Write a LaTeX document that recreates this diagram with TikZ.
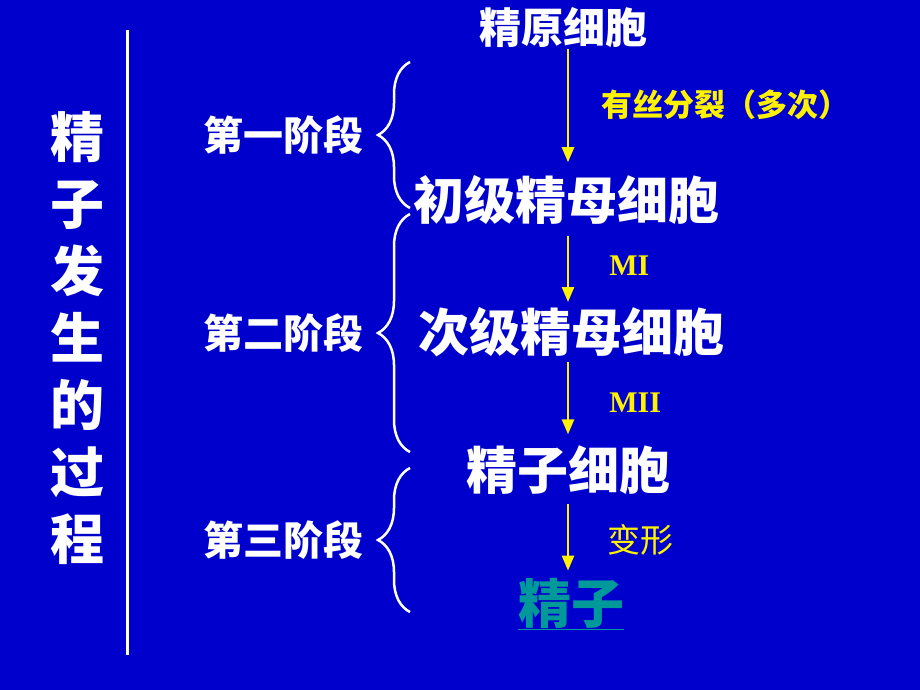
\documentclass[tikz,border=0pt]{standalone}
\usepackage{fontspec}
\setmainfont{Liberation Serif}
\newfontfamily\hei{Noto Sans CJK SC}
\usetikzlibrary{arrows.meta,decorations.pathreplacing}
\definecolor{bgblue}{RGB}{0,0,204}
\definecolor{jzgreen}{RGB}{0,153,153}
\tikzset{
  cell/.style={text=white,inner sep=1pt,font=\hei\bfseries\fontsize{51}{51}\selectfont},
  stage/.style={text=white,inner sep=2pt,font=\hei\bfseries\fontsize{40}{40}\selectfont},
  lab/.style={text=yellow,inner sep=0pt,font=\hei\bfseries\fontsize{31}{31}\selectfont},
  arr/.style={yellow,line width=2.5pt,-{Triangle[length=15pt,width=12pt]}},
  brc/.style={white,line width=2.5pt,decorate,decoration={brace,amplitude=32pt}}
}
\begin{document}
\begin{tikzpicture}[x=1pt,y=-1pt]
\fill[bgblue](0,0)rectangle(920,690);
\useasboundingbox(0,0)rectangle(920,690);
% title
\node[text=white,align=center,font=\hei\bfseries\fontsize{54}{67}\selectfont](title)at(77,338){精\\子\\发\\生\\的\\过\\程};
\draw[white,line width=3pt](127,30)--(127,655);
% cells
\node[cell,font=\hei\bfseries\fontsize{42}{42}\selectfont](sg)at(563,28){精原细胞};
\node[cell](ps)at(566,200){初级精母细胞};
\node[cell](ss)at(571,332){次级精母细胞};
\node[cell](st)at(568,470){精子细胞};
\node[cell,text=jzgreen,font=\hei\bfseries\fontsize{53}{53}\selectfont](sz)at(571,604){\underline{精子}};
% arrows
\draw[arr,shorten <=0pt,shorten >=12pt]([xshift=5pt]sg.south)--([xshift=5pt]sg.south|-ps.north)node[lab,midway,right=32pt,yshift=7pt]{有丝分裂（多次）};
\draw[arr,shorten <=10pt,shorten >=4pt]([xshift=5pt]sg.south|-ps.south)--([xshift=5pt]sg.south|-ss.north)node[lab,midway,right=40pt,font=\bfseries\fontsize{30}{30}\selectfont]{MI};
\draw[arr,shorten <=4pt,shorten >=10pt]([xshift=5pt]sg.south|-ss.south)--([xshift=5pt]sg.south|-st.north)node[lab,midway,right=40pt,yshift=-2pt,font=\bfseries\fontsize{30}{30}\selectfont]{MII};
\draw[arr,shorten <=8pt,shorten >=6pt]([xshift=5pt]sg.south|-st.south)--([xshift=5pt]sg.south|-sz.north)node[lab,midway,right=38pt,yshift=-4pt,font=\hei\fontsize{33}{33}\selectfont]{变形};
% braces
\draw[brc](410,208)--(410,62)coordinate[midway](b1);
\draw[brc](410,452)--(410,214)coordinate[midway](b2);
\draw[brc](410,612)--(410,468)coordinate[midway](b3);
\node[stage,anchor=east](st1)at([xshift=-44pt]b1){第一阶段};
\node[stage,anchor=east](st2)at([xshift=-44pt]b2){第二阶段};
\node[stage,anchor=east](st3)at([xshift=-44pt]b3){第三阶段};
\end{tikzpicture}
\end{document}
